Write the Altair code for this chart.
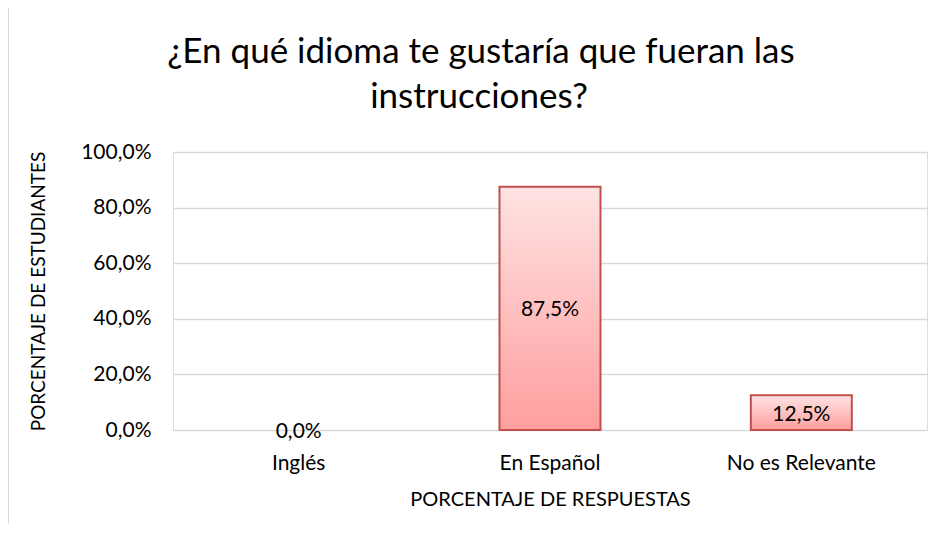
import altair as alt
import pandas as pd

categories = ["Inglés", "En Español", "No es Relevante"]
values = [0.0, 0.875, 0.125]
title_lines = ["¿En qué idioma te gustaría que fueran las", "instrucciones?"]
y_title = "PORCENTAJE DE ESTUDIANTES"
x_title = "PORCENTAJE DE RESPUESTAS"

df = pd.DataFrame({"cat": categories, "val": values})
df["half"] = df["val"] / 2

FONT = "Lato"

x_enc = alt.X("cat:N", sort=categories, title=x_title,
              scale=alt.Scale(paddingInner=0, paddingOuter=0),
              axis=alt.Axis(labelAngle=0, labelFontSize=21, labelColor="#000000",
                            titleFontSize=20, titleFontWeight="normal", titleColor="#000000",
                            titlePadding=16, labelPadding=22, ticks=False, domain=False,
                            labelFont=FONT, titleFont=FONT))

y_scale = alt.Scale(domain=[0, 1])

grad = alt.Gradient(gradient="linear", x1=0, x2=0, y1=0, y2=1,
                    stops=[alt.GradientStop(color="#FFE3E3", offset=0),
                           alt.GradientStop(color="#FF9E9E", offset=1)])

bars = alt.Chart(df).transform_filter("datum.val > 0").mark_bar(
    size=101, color=grad, stroke="#C0504D", strokeWidth=2).encode(
    x=x_enc,
    y=alt.Y("val:Q", scale=y_scale, title=y_title,
            axis=alt.Axis(values=[0, 0.2, 0.4, 0.6, 0.8, 1.0],
                          labelExpr="replace(format(datum.value, '.1%'), '.', ',')",
                          labelFontSize=21, labelColor="#000000", labelPadding=22,
                          titleFontSize=19, titleFontWeight="normal", titleColor="#000000",
                          titlePadding=32, ticks=False, domain=False,
                          grid=True, gridColor="#D9D9D9", gridWidth=1.5,
                          labelFont=FONT, titleFont=FONT)),
)

labels = alt.Chart(df).transform_calculate(
    lbl="replace(format(datum.val, '.1%'), '.', ',')"
).mark_text(fontSize=21, font=FONT, color="#000000", baseline="middle", dy=2).encode(
    x=alt.X("cat:N", sort=categories),
    y=alt.Y("half:Q", scale=y_scale),
    text="lbl:N",
)

one = pd.DataFrame({"k": [0]})
border = alt.Chart(one).mark_rect(fill=None, stroke="#D9D9D9", strokeWidth=2).encode(
    x=alt.value(-165), x2=alt.value(800), y=alt.value(-146), y2=alt.value(500)
)

t1 = alt.Chart(one).mark_text(fontSize=35, font=FONT, color="#000000", baseline="alphabetic",
                              align="center").encode(
    x=alt.value(308), y=alt.value(-89), text=alt.value(title_lines[0]))
t2 = alt.Chart(one).mark_text(fontSize=35, font=FONT, color="#000000", baseline="alphabetic",
                              align="center").encode(
    x=alt.value(306), y=alt.value(-44), text=alt.value(title_lines[1]))

chart = alt.layer(border, bars, labels, t1, t2).properties(
    width=754, height=278,
    autosize=alt.AutoSizeParams(type="none"),
    padding={"left": 165, "top": 144, "right": 8, "bottom": 94},
).configure_view(stroke=None).configure(background="#FFFFFF")

chart.save("out.html", embed_options={"renderer": "svg", "actions": False})
